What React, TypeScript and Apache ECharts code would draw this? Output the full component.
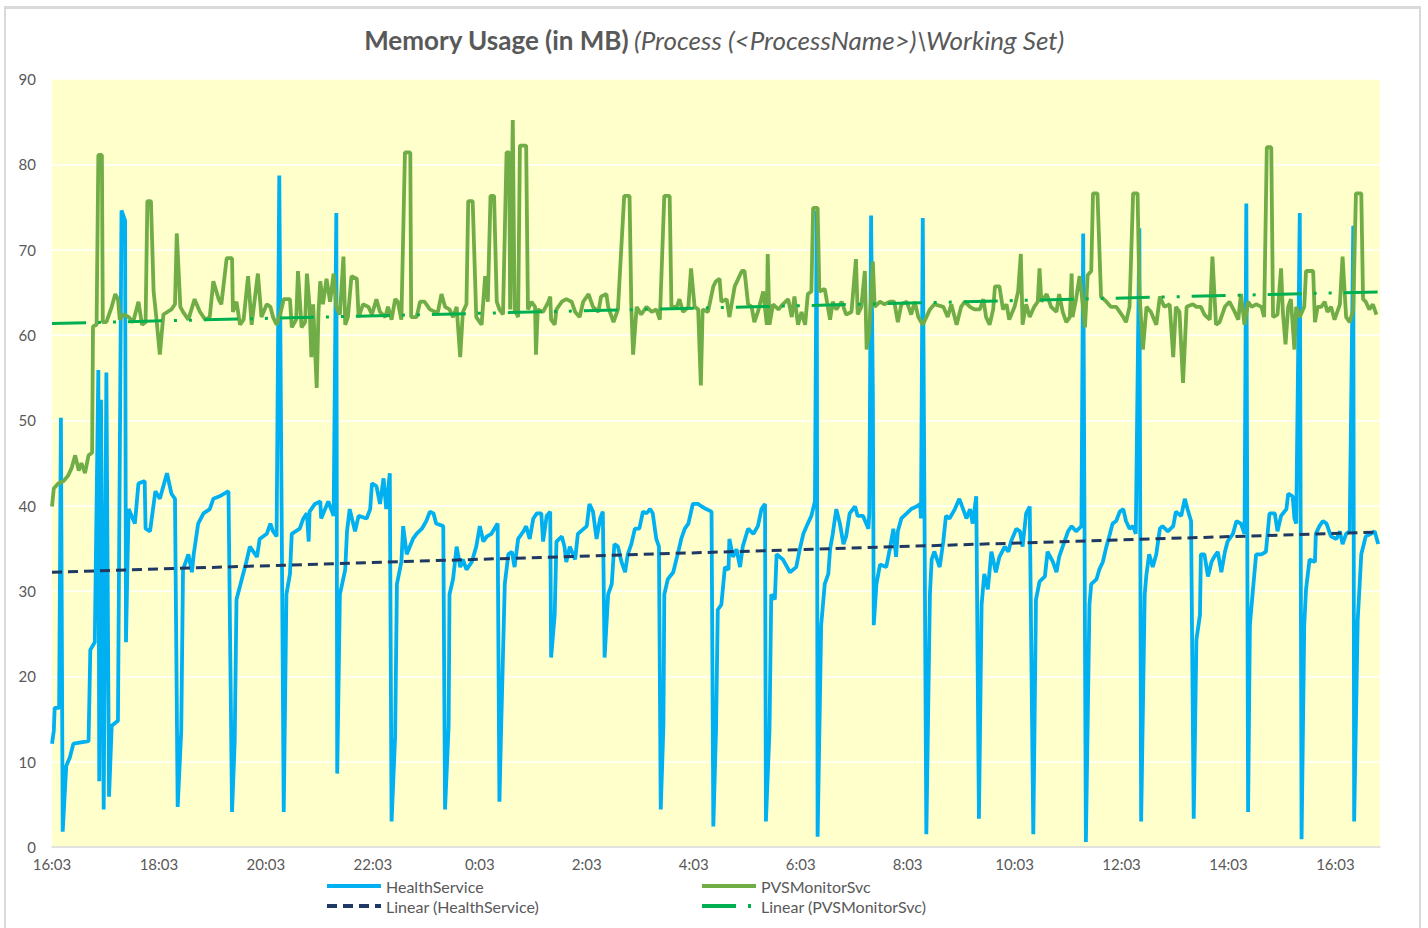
import React, { useEffect, useRef } from "react";
import * as echarts from "echarts";

// Minutes since 16:03 (start of capture) and working set in MB
const healthServiceMB: [number, number][] = [
  [0,12.1],[2,13.6],[3,16.3],[8,16.3],[10,50.3],[12,1.8],[16,9.5],[20,10.5],[24,12.1],[41,12.4],[43,23.1],[48,24.0],[52,55.9],[53,7.7],[55,52.4],[58,4.4],[61,55.6],[64,5.9],[67,14.2],[74,14.8],[78,74.6],[82,73.4],[83,24.0],[85,34.9],[86,39.6],[93,37.9],[97,42.6],[104,42.9],[105,37.3],[110,37.0],[116,41.7],[121,40.8],[129,43.8],[134,41.4],[138,40.8],[141,4.7],[145,13.6],[147,32.5],[153,34.3],[157,32.2],[159,34.3],[164,37.9],[170,39.1],[177,39.6],[181,40.8],[188,41.1],[198,41.7],[202,4.1],[205,12.4],[207,29.0],[213,31.4],[218,33.4],[222,35.2],[230,34.0],[233,36.1],[241,36.7],[245,37.9],[248,37.0],[252,36.4],[255,78.7],[260,4.1],[263,29.6],[267,32.0],[269,36.7],[278,37.3],[282,38.5],[286,39.1],[288,35.8],[289,39.3],[295,40.2],[301,40.5],[302,38.5],[310,40.5],[316,38.8],[319,74.3],[320,8.6],[323,29.6],[329,32.5],[331,37.0],[334,39.6],[340,37.0],[344,38.8],[353,38.5],[357,39.6],[359,42.6],[364,42.3],[368,40.2],[372,43.2],[375,39.6],[379,43.8],[381,3.0],[385,13.0],[387,30.8],[392,33.4],[394,37.6],[398,34.3],[405,36.1],[409,36.7],[415,37.3],[420,38.2],[424,39.3],[428,39.1],[431,37.9],[439,37.6],[441,4.4],[445,14.2],[446,29.6],[450,31.4],[454,35.2],[458,32.8],[461,33.7],[465,32.5],[471,33.4],[476,35.2],[480,37.6],[484,35.8],[488,36.4],[493,36.7],[500,37.9],[502,5.3],[504,14.2],[508,30.8],[512,34.3],[516,34.6],[519,32.8],[523,36.1],[529,37.0],[532,37.6],[536,36.1],[540,38.5],[544,39.1],[549,39.1],[551,35.8],[555,38.8],[559,39.3],[560,22.2],[564,27.2],[566,35.8],[572,36.4],[575,35.2],[577,33.4],[581,35.2],[587,33.7],[590,36.7],[600,37.6],[603,40.2],[607,39.3],[611,36.1],[615,38.5],[618,39.3],[620,22.2],[624,29.6],[628,30.8],[631,35.5],[635,35.2],[639,33.4],[643,32.2],[646,34.3],[650,35.5],[654,37.3],[659,37.3],[663,39.3],[667,39.1],[671,39.6],[674,39.1],[678,36.1],[681,35.2],[683,4.4],[686,14.2],[687,29.6],[691,31.4],[697,32.2],[702,34.3],[706,36.1],[710,37.3],[714,37.9],[719,40.2],[725,40.2],[729,39.9],[734,39.6],[740,39.3],[742,2.4],[745,13.6],[747,27.8],[751,28.4],[755,32.8],[759,32.5],[760,36.1],[764,34.0],[768,34.9],[772,32.8],[775,35.2],[781,37.3],[787,36.7],[792,37.6],[796,39.6],[800,40.2],[801,3.0],[805,13.6],[807,29.6],[811,29.0],[813,34.3],[820,33.7],[828,32.2],[835,32.8],[839,34.9],[843,36.7],[848,37.9],[852,38.8],[856,40.5],[858,74.6],[859,1.2],[863,26.0],[867,30.8],[871,32.0],[873,34.9],[876,36.7],[880,39.6],[884,37.9],[888,35.5],[891,36.4],[895,39.1],[901,39.9],[904,38.8],[910,38.8],[916,37.3],[917,39.1],[919,74.0],[921,53.0],[922,26.0],[925,30.8],[929,33.1],[936,32.8],[940,34.9],[944,37.3],[947,34.0],[949,37.0],[953,38.5],[959,39.1],[964,39.6],[970,39.9],[974,40.2],[975,38.5],[977,73.7],[981,1.5],[985,29.6],[987,33.7],[990,34.6],[996,32.8],[1000,35.8],[1003,38.8],[1007,38.5],[1013,39.6],[1018,40.8],[1024,39.1],[1026,38.5],[1030,39.6],[1033,37.9],[1037,41.1],[1040,3.3],[1043,28.4],[1046,32.0],[1050,30.2],[1054,34.6],[1059,32.2],[1063,34.0],[1069,35.2],[1073,34.6],[1076,35.8],[1082,37.3],[1086,37.0],[1089,35.2],[1093,39.1],[1097,39.9],[1101,1.5],[1104,29.0],[1108,31.1],[1114,31.7],[1117,34.6],[1123,33.4],[1127,32.2],[1130,34.0],[1134,35.2],[1140,37.0],[1144,37.6],[1149,37.0],[1155,37.6],[1157,71.9],[1160,0.6],[1164,28.4],[1166,30.8],[1172,31.4],[1175,32.5],[1179,33.4],[1183,35.2],[1187,36.7],[1190,37.9],[1194,38.2],[1198,39.3],[1202,39.6],[1205,38.2],[1209,37.3],[1213,37.6],[1216,36.7],[1220,72.5],[1222,3.0],[1226,29.6],[1228,32.0],[1231,34.3],[1235,32.8],[1239,34.3],[1243,37.3],[1246,37.6],[1252,37.0],[1258,37.6],[1261,39.3],[1267,38.8],[1271,40.8],[1274,39.6],[1278,38.2],[1281,3.3],[1284,24.3],[1288,27.2],[1289,34.3],[1293,34.3],[1297,31.7],[1301,33.4],[1304,34.0],[1308,34.6],[1312,32.2],[1316,34.6],[1319,35.8],[1325,36.7],[1329,38.2],[1334,37.9],[1338,36.7],[1340,75.4],[1342,4.1],[1344,26.0],[1347,29.6],[1351,34.3],[1357,34.3],[1362,34.6],[1366,39.1],[1372,39.1],[1375,37.0],[1379,38.8],[1385,39.6],[1387,41.4],[1392,41.1],[1394,38.5],[1396,37.9],[1400,74.3],[1402,0.9],[1405,26.0],[1407,30.2],[1411,33.7],[1417,33.4],[1418,36.7],[1422,37.6],[1426,38.2],[1430,37.9],[1435,36.4],[1441,36.1],[1445,37.0],[1448,35.5],[1452,36.7],[1456,37.0],[1460,72.8],[1461,3.0],[1465,26.6],[1469,34.3],[1474,36.4],[1480,36.7],[1484,37.0],[1488,35.5]
];

const pvsMonitorSvcMB: [number, number][] = [
  [0,39.9],[2,42.0],[7,42.6],[13,42.9],[18,43.5],[22,44.4],[26,45.9],[30,44.1],[33,45.0],[37,43.8],[41,45.9],[45,46.2],[46,61.0],[50,61.2],[52,81.1],[56,81.1],[57,61.5],[61,61.5],[67,63.3],[71,64.8],[74,64.2],[76,61.8],[80,62.4],[86,62.1],[91,61.5],[97,63.9],[101,61.2],[105,61.5],[107,75.7],[111,75.7],[114,65.1],[117,62.1],[121,57.7],[125,62.4],[134,63.0],[138,63.6],[140,71.9],[144,63.3],[147,62.7],[153,61.8],[160,64.2],[166,62.7],[172,61.8],[177,62.1],[181,66.3],[187,64.2],[190,63.6],[196,69.0],[202,69.0],[203,62.7],[207,63.9],[211,61.2],[215,61.8],[220,66.9],[224,61.2],[231,67.2],[235,62.1],[241,63.6],[245,63.3],[248,62.1],[252,61.2],[256,62.4],[260,64.2],[267,64.2],[269,60.9],[274,61.8],[276,67.5],[280,60.9],[284,61.5],[286,67.2],[289,63.3],[291,57.4],[293,63.6],[297,53.8],[299,62.7],[301,66.3],[304,63.6],[308,66.6],[312,63.9],[316,67.2],[319,63.3],[323,62.4],[327,69.2],[329,61.2],[332,62.1],[336,66.9],[342,66.6],[344,62.1],[349,63.6],[355,63.3],[359,62.4],[364,64.2],[368,62.7],[374,62.1],[377,63.3],[381,61.8],[385,64.2],[388,63.9],[392,61.8],[396,81.4],[402,81.4],[403,62.1],[409,62.1],[413,63.9],[418,63.9],[424,63.0],[430,62.7],[433,62.7],[437,64.8],[441,63.3],[446,63.0],[450,62.1],[454,63.3],[458,57.4],[461,62.7],[465,63.6],[467,75.7],[472,75.7],[476,62.1],[482,61.2],[486,66.9],[489,63.9],[492,76.3],[496,76.3],[499,63.9],[502,63.0],[506,62.4],[510,81.4],[513,81.4],[514,63.0],[517,85.2],[519,63.0],[523,62.1],[525,82.2],[532,82.2],[534,63.0],[538,63.9],[542,63.3],[543,57.7],[545,63.0],[551,62.7],[557,63.9],[559,64.5],[560,61.8],[564,61.2],[566,63.0],[572,63.9],[577,64.2],[583,63.9],[587,62.7],[592,62.1],[596,63.9],[602,64.8],[607,63.3],[613,62.7],[616,64.5],[622,64.8],[624,63.3],[630,61.5],[635,63.0],[637,66.9],[642,76.3],[648,76.3],[650,63.3],[652,57.7],[656,63.3],[661,62.4],[667,63.3],[673,62.7],[678,63.0],[682,61.8],[687,76.3],[693,76.3],[695,63.3],[701,63.3],[704,64.2],[708,62.7],[714,63.3],[717,67.8],[721,63.3],[725,63.0],[728,54.1],[730,63.0],[736,62.7],[742,65.7],[745,66.3],[749,66.6],[751,63.9],[757,64.2],[760,62.1],[766,65.7],[774,67.5],[777,67.5],[781,63.6],[785,63.3],[788,61.5],[792,62.7],[798,65.1],[802,61.2],[803,69.5],[805,61.2],[809,63.6],[815,63.0],[820,63.6],[826,64.2],[830,62.1],[833,64.5],[837,61.2],[841,62.7],[845,61.2],[848,64.8],[852,65.1],[854,74.9],[859,74.9],[861,65.1],[867,65.4],[873,61.8],[876,63.9],[880,63.0],[886,63.9],[891,62.4],[897,62.7],[902,68.9],[904,62.4],[908,63.3],[912,67.5],[914,58.3],[917,60.4],[921,68.6],[923,63.3],[929,63.9],[934,63.6],[940,63.9],[945,63.9],[949,61.5],[953,63.6],[959,63.9],[964,62.4],[968,63.9],[972,62.1],[977,61.2],[981,62.1],[985,63.0],[990,63.6],[1000,63.3],[1005,62.1],[1009,63.6],[1015,61.2],[1020,63.3],[1024,63.9],[1030,63.3],[1035,63.0],[1041,63.0],[1045,64.2],[1048,62.1],[1052,61.2],[1056,63.0],[1058,65.7],[1063,65.7],[1067,63.0],[1071,63.6],[1074,61.8],[1080,63.3],[1084,65.1],[1087,69.5],[1089,61.2],[1093,63.6],[1097,62.1],[1102,63.3],[1106,63.9],[1108,67.8],[1110,63.9],[1116,64.8],[1121,63.3],[1127,62.7],[1130,64.8],[1134,62.7],[1138,61.5],[1142,62.1],[1144,67.2],[1145,62.1],[1149,64.2],[1153,66.9],[1155,65.1],[1159,60.9],[1162,67.0],[1166,67.5],[1168,76.6],[1173,76.6],[1177,64.5],[1183,63.9],[1188,63.3],[1194,63.3],[1198,62.7],[1202,62.1],[1205,61.5],[1209,63.3],[1213,76.6],[1218,76.6],[1220,65.1],[1224,58.3],[1228,63.3],[1233,62.7],[1239,61.2],[1243,64.5],[1248,63.3],[1254,63.6],[1258,57.4],[1261,63.3],[1265,62.7],[1269,54.4],[1273,63.3],[1280,63.6],[1284,63.3],[1289,63.3],[1293,62.4],[1299,61.8],[1302,69.2],[1306,61.2],[1310,61.5],[1316,63.3],[1321,63.9],[1327,62.7],[1331,61.8],[1334,64.8],[1338,61.2],[1342,63.9],[1346,63.3],[1351,63.6],[1357,63.3],[1360,62.1],[1363,82.0],[1368,82.0],[1370,62.1],[1375,62.4],[1379,67.8],[1381,62.7],[1384,58.9],[1387,63.3],[1390,64.2],[1394,58.3],[1396,63.3],[1400,62.1],[1405,63.3],[1407,67.5],[1415,67.5],[1417,61.5],[1420,63.3],[1424,63.3],[1428,63.9],[1431,62.7],[1435,63.3],[1439,61.8],[1445,63.6],[1448,69.2],[1452,62.1],[1456,61.5],[1460,63.0],[1463,76.6],[1469,76.6],[1471,64.2],[1474,63.9],[1478,63.0],[1482,63.6],[1486,62.4]
];

// Linear trend lines: value at first and last sample
const healthServiceTrend: [number, number][] = [[0, 32.2], [1488, 36.9]];
const pvsMonitorSvcTrend: [number, number][] = [[0, 61.35], [1488, 65.05]];

const xTickLabels = ["16:03", "18:03", "20:03", "22:03", "0:03", "2:03", "4:03", "6:03", "8:03", "10:03", "12:03", "14:03", "16:03"];
const xTickStep = 120;
const xMax = 1490;

const seriesNames = ["HealthService", "PVSMonitorSvc", "Linear (HealthService)", "Linear (PVSMonitorSvc)"];

const FONT = "Lato, 'Open Sans', sans-serif";
const GREY = "#595959";

const legendBase = {
  orient: "vertical",
  top: 878,
  padding: 0,
  itemWidth: 54,
  itemHeight: 12,
  itemGap: 4,
  itemStyle: { opacity: 0, borderWidth: 0 },
  lineStyle: { width: 4 },
  textStyle: { fontFamily: FONT, fontSize: 16, color: GREY },
  selectedMode: false,
};

export default function App() {
  const ref = useRef<HTMLDivElement>(null);

  useEffect(() => {
    if (!ref.current) return;
    const chart = echarts.init(ref.current, undefined, { renderer: "svg" });
    chart.setOption({
      animation: false,
      backgroundColor: "transparent",
      title: {
        text: "{b|Memory Usage (in MB)} {i|(Process (<ProcessName>)\\Working Set)}",
        left: "center",
        top: 22,
        textStyle: {
          rich: {
            b: { fontFamily: FONT, fontSize: 26, fontWeight: "bold", color: GREY },
            i: { fontFamily: FONT, fontSize: 26, fontStyle: "italic", fontWeight: "normal", color: GREY },
          },
        },
      },
      legend: [
        { ...legendBase, left: 325, data: [seriesNames[0], seriesNames[2]] },
        { ...legendBase, left: 700, data: [seriesNames[1], seriesNames[3]] },
      ],
      grid: {
        left: 52,
        top: 79,
        width: 1328,
        height: 768,
        show: true,
        backgroundColor: "#FFFFCC",
        borderWidth: 0,
      },
      xAxis: {
        type: "value",
        min: 0,
        max: xMax,
        interval: xTickStep,
        axisLine: { show: true, lineStyle: { color: "#D9D9D9", width: 1.5 } },
        axisTick: { show: false },
        splitLine: { show: false },
        axisLabel: {
          color: GREY,
          fontFamily: FONT,
          fontSize: 15,
          margin: 9,
          showMaxLabel: false,
          formatter: (v: number) => xTickLabels[Math.round(v / xTickStep)] ?? "",
        },
      },
      yAxis: {
        type: "value",
        min: 0,
        max: 90,
        interval: 10,
        axisLine: { show: false },
        axisTick: { show: false },
        splitLine: { show: true, lineStyle: { color: "#FFFFFF", width: 1.5 } },
        axisLabel: { color: GREY, fontFamily: FONT, fontSize: 15, margin: 16 },
      },
      series: [
        {
          name: seriesNames[0],
          type: "line",
          data: healthServiceMB,
          symbol: "none",
          showSymbol: false,
          color: "#00B0F0",
          lineStyle: { color: "#00B0F0", width: 3.8 },
          emphasis: { disabled: true },
          silent: true,
          z: 2,
        },
        {
          name: seriesNames[1],
          type: "line",
          data: pvsMonitorSvcMB,
          symbol: "none",
          showSymbol: false,
          color: "#70AD47",
          lineStyle: { color: "#70AD47", width: 3.8 },
          emphasis: { disabled: true },
          silent: true,
          z: 3,
        },
        {
          name: seriesNames[2],
          type: "line",
          data: healthServiceTrend,
          symbol: "none",
          showSymbol: false,
          color: "#1F3864",
          lineStyle: { color: "#1F3864", width: 3, type: [10, 6] },
          emphasis: { disabled: true },
          silent: true,
          z: 4,
        },
        {
          name: seriesNames[3],
          type: "line",
          data: pvsMonitorSvcTrend,
          symbol: "none",
          showSymbol: false,
          color: "#00B050",
          lineStyle: { color: "#00B050", width: 3, type: [34, 12, 3, 12, 3, 12] },
          emphasis: { disabled: true },
          silent: true,
          z: 4,
        },
      ],
    });
    return () => chart.dispose();
  }, []);

  return (
    <div style={{ position: "fixed", left: 0, top: 0, width: 1428, height: 928, background: "#FFFFFF", overflow: "hidden" }}>
      <div
        style={{
          position: "absolute",
          left: 4,
          top: 6,
          width: 1417,
          height: 960,
          boxSizing: "border-box",
          borderLeft: "2px solid #D9D9D9",
          borderRight: "2px solid #D9D9D9",
          borderTop: "3px solid #D9D9D9",
        }}
      />
      <div ref={ref} style={{ position: "absolute", left: 0, top: 0, width: 1428, height: 928 }} />
    </div>
  );
}
